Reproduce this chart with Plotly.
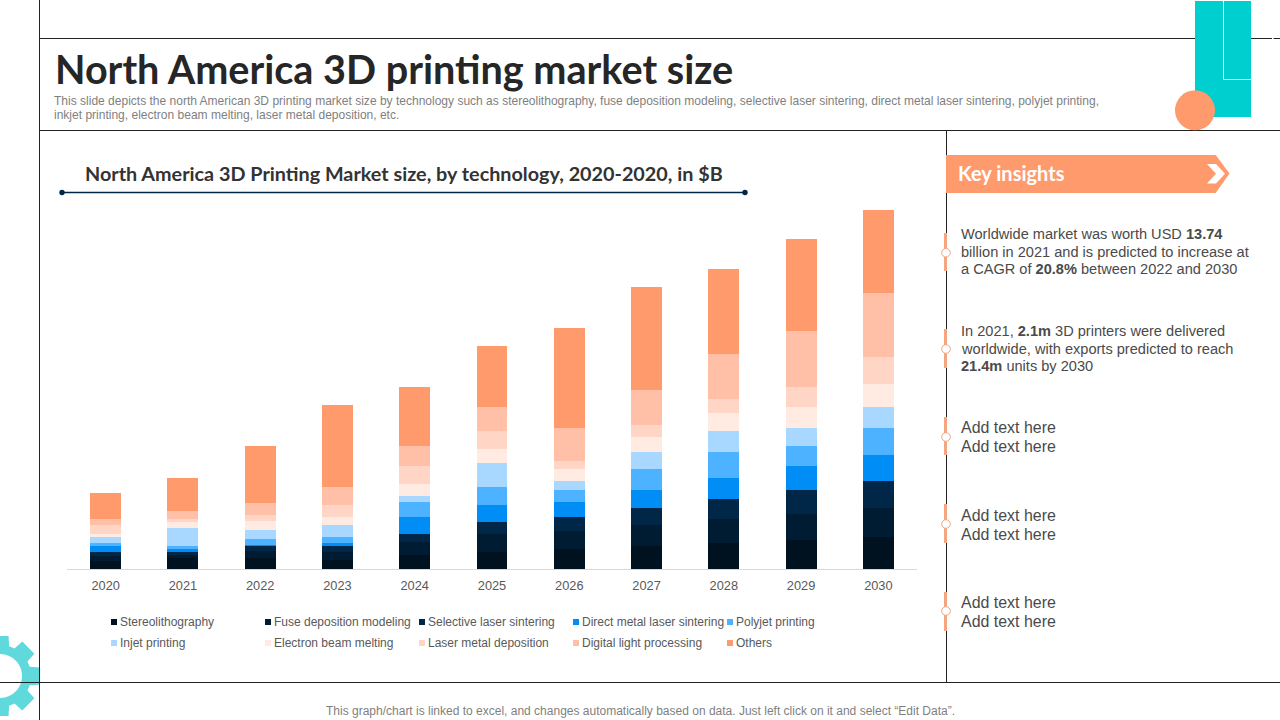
import math
import plotly.graph_objects as go

# ---- data ----
years = ["2020", "2021", "2022", "2023", "2024", "2025", "2026", "2027", "2028", "2029", "2030"]
stereolithography = [0.8, 1.1, 1.1, 0.9, 1.4, 1.73, 2.03, 2.33, 2.63, 2.93, 3.23]
fuse_deposition = [0.5, 0.3, 0.7, 0.8, 1.3, 1.8, 1.8, 2.1, 2.4, 2.6, 2.9]
selective_laser = [0.4, 0.3, 0.5, 0.6, 0.8, 1.2, 1.4, 1.7, 2.0, 2.4, 2.7]
direct_metal = [0.6, 0.3, 0.1, 0.3, 1.7, 1.7, 1.5, 1.8, 2.1, 2.4, 2.6]
polyjet = [0.3, 0.3, 0.6, 0.6, 1.5, 1.8, 1.2, 2.1, 2.6, 2.0, 2.7]
injet = [0.6, 1.8, 0.9, 1.2, 0.6, 2.4, 0.9, 1.7, 2.1, 1.8, 2.1]
electron_beam = [0.3, 0.6, 0.9, 0.8, 1.2, 1.4, 1.2, 1.5, 1.8, 2.1, 2.3]
laser_metal = [0.9, 0.3, 0.6, 1.2, 1.8, 1.8, 0.8, 1.2, 1.4, 2.0, 2.7]
digital_light = [0.6, 0.8, 1.2, 1.8, 2.0, 2.4, 3.3, 3.5, 4.5, 5.6, 6.4]
others = [2.6, 3.3, 5.7, 8.2, 5.9, 6.1, 10.0, 10.3, 8.5, 9.2, 8.3]

series_names = ["Stereolithography", "Fuse deposition modeling", "Selective laser sintering",
                "Direct metal laser sintering", "Polyjet printing", "Injet printing",
                "Electron beam melting", "Laser metal deposition", "Digital light processing", "Others"]
series_values = [stereolithography, fuse_deposition, selective_laser, direct_metal, polyjet,
                 injet, electron_beam, laser_metal, digital_light, others]
series_colors = ["#00111F", "#001C33", "#002748", "#008DF6", "#4DB2FF",
                 "#A8D7FF", "#FFEBE1", "#FFD6C6", "#FFC0A7", "#FF9A6C"]

ORANGE = "#FF9A6C"
TEAL = "#00CFCF"
LINE = "#222222"
BODY = "#4A4A4A"
W, H = 1280, 720


def px(x):
    return x / W


def py(y):
    return 1 - y / H


def line(x0, y0, x1, y1, color=LINE, width=1):
    return dict(type="line", xref="paper", yref="paper", x0=px(x0), y0=py(y0), x1=px(x1), y1=py(y1),
                line=dict(color=color, width=width))


def rect(x0, y0, x1, y1, fill):
    return dict(type="rect", xref="paper", yref="paper", x0=px(x0), y0=py(y0), x1=px(x1), y1=py(y1),
                fillcolor=fill, line=dict(width=0))


def circle(cx, cy, r, fill, stroke=None, sw=0):
    return dict(type="circle", xref="paper", yref="paper", x0=px(cx - r), y0=py(cy - r), x1=px(cx + r), y1=py(cy + r),
                fillcolor=fill, line=dict(color=stroke or fill, width=sw))


def poly(points, fill, opacity=1):
    d = "M" + " L".join(f"{px(a):.5f},{py(b):.5f}" for a, b in points) + " Z"
    return dict(type="path", xref="paper", yref="paper", path=d, fillcolor=fill, line=dict(width=0), opacity=opacity)


def gear_path(cx, cy, r_in, r_out, r_tip, teeth=8):
    pts = []
    for i in range(teeth):
        c = 2 * math.pi * i / teeth
        for a, r in [(-0.30, r_out), (-0.21, r_tip), (0.21, r_tip), (0.30, r_out)]:
            pts.append((cx + r * math.cos(c + a), cy + r * math.sin(c + a)))
        for k in range(1, 4):
            t = c + 0.30 + k * (2 * math.pi / teeth - 0.60) / 4
            pts.append((cx + r_out * math.cos(t), cy + r_out * math.sin(t)))
    d = "M" + " L".join(f"{px(a):.5f},{py(b):.5f}" for a, b in pts) + " Z "
    hole = [(cx + r_in * math.cos(2 * math.pi * k / 48), cy + r_in * math.sin(2 * math.pi * k / 48)) for k in range(48)]
    d += "M" + " L".join(f"{px(a):.5f},{py(b):.5f}" for a, b in hole) + " Z"
    return dict(type="path", xref="paper", yref="paper", path=d, fillcolor="#5FD9DC", line=dict(width=0), fillrule="evenodd")


def text(x, y, s, size, color=BODY, family="Liberation Sans", anchor="left"):
    return dict(xref="paper", yref="paper", x=px(x), y=py(y), text=s, showarrow=False, xanchor=anchor, yanchor="middle",
                font=dict(size=size, color=color, family=family), borderpad=0, borderwidth=0)


fig = go.Figure()
for name, vals, col in zip(series_names, series_values, series_colors):
    fig.add_trace(go.Bar(name=name, x=years, y=vals, marker=dict(color=col, line=dict(width=0)), showlegend=False,
                         hovertemplate="%{x}: %{y}<extra>" + name + "</extra>"))

shapes = [
    gear_path(0, 676, 22, 31, 41),
    line(39.5, 0, 39.5, 720),
    line(39.5, 38.5, 1272, 38.5),
    line(1273.5, 38.5, 1280, 38.5),
    line(39.5, 130.5, 1280, 130.5),
    line(0, 682.5, 1280, 682.5),
    line(946.5, 130.5, 946.5, 682.5),
    rect(1195, 1, 1251, 117, TEAL),
    line(1223.5, 1, 1223.5, 79.5, "#FFFFFF", 1),
    line(1223.5, 79.5, 1251, 79.5, "#FFFFFF", 1),
    circle(1195, 110.3, 20, ORANGE),
    line(62, 192.5, 745, 192.5, "#002748", 1.5),
    circle(62, 192.5, 2.7, "#002748"),
    circle(745, 192.5, 2.7, "#002748"),
    poly([(946, 155), (1215.7, 155), (1229.5, 173.5), (1215.7, 193), (946, 193)], ORANGE),
    poly([(1207, 164), (1216, 164), (1225, 173.7), (1216, 183.5), (1207, 183.5), (1216, 173.7)], "#FFFFFF"),
]
for top, bottom, cy in [(233, 271, 252.7), (329, 368, 349), (417, 455, 437), (504, 543, 524), (592, 631, 611)]:
    shapes.append(rect(944, top, 947, bottom, "#F4A582"))
    shapes.append(circle(946, cy, 4.3, "#FFFFFF", "#F4A582", 1))

annotations = [
    text(54, 101, "This slide depicts the north American 3D printing market size by technology such as stereolithography, "
                  "fuse deposition modeling, selective laser sintering, direct metal laser sintering, polyjet printing,",
         12.03, "#7F7F7F"),
    text(54, 115, "inkjet printing, electron beam melting, laser metal deposition, etc.", 12.03, "#7F7F7F"),
    text(85, 173, "<b>North America 3D Printing Market size, by technology, 2020-2020, in $B</b>", 19.8, "#333333", "Lato"),
    text(958, 172.5, "<b>Key insights</b>", 20, "#FFFFFF", "Lato"),
    text(961, 233.5, "Worldwide market was worth USD <b>13.74</b>", 14.58),
    text(961, 251.5, "billion in 2021 and is predicted to increase at", 14.58),
    text(961, 268.5, "a CAGR of <b>20.8%</b> between 2022 and 2030", 14.58),
    text(961, 331, "In 2021, <b>2.1m</b> 3D printers were delivered", 14.58),
    text(961, 349, "worldwide, with exports predicted to reach", 14.58),
    text(961, 366, "<b>21.4m</b> units by 2030", 14.58),
    text(640.5, 711, "This graph/chart is linked to excel, and changes automatically based on data. "
                     "Just left click on it and select “Edit Data”.", 12, "#7F7F7F", anchor="center"),
]
for y1, y2 in [(427.5, 446.5), (515.5, 534.5), (602.5, 621.5)]:
    annotations.append(text(961, y1, "Add text here", 15.95))
    annotations.append(text(961, y2, "Add text here", 15.95))

# legend: five columns, two rows
legend_x = [111, 265, 419, 573, 727]
legend_y = [622, 643]
for i, (name, col) in enumerate(zip(series_names, series_colors)):
    lx, ly = legend_x[i % 5], legend_y[i // 5]
    shapes.append(rect(lx, ly - 3, lx + 6, ly + 3, col))
    annotations.append(text(lx + 9, ly, name, 12, "#595959"))

fig.update_layout(
    width=W, height=H, autosize=False,
    margin=dict(l=0, r=0, t=0, b=0),
    paper_bgcolor="#FFFFFF", plot_bgcolor="#FFFFFF",
    barmode="stack", bargap=0.6, showlegend=False,
    font=dict(family="Liberation Sans", color="#595959", size=12),
    title=dict(text="<b>North America 3D printing market size</b>", x=px(55), xanchor="left", xref="paper",
               y=py(70), yanchor="middle", yref="paper",
               font=dict(family="Lato", size=39.6, color="#262626")),
    xaxis=dict(domain=[px(67), px(917)], type="category", showgrid=False, zeroline=False, showline=True,
               linecolor="#D9D9D9", linewidth=1, ticks="outside", ticklen=5, tickcolor="rgba(0,0,0,0)",
               tickfont=dict(size=12.8, color="#595959")),
    yaxis=dict(domain=[py(569), py(200)], range=[0, 36.9], visible=False),
    shapes=shapes,
    annotations=annotations,
)
for s in fig.layout.shapes:
    s.layer = "above"

fig.write_html("out.html", config=dict(displayModeBar=False),
               post_script="document.body.style.margin='0';document.body.style.overflow='hidden';")
